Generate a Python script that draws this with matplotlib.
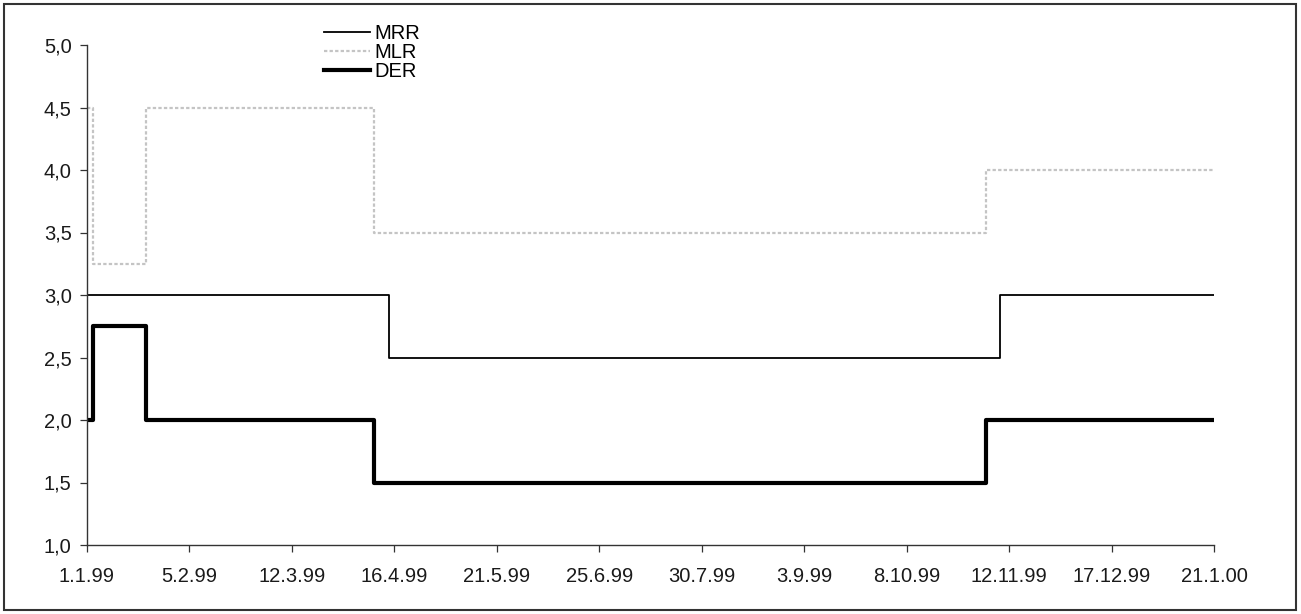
import matplotlib.pyplot as plt
import matplotlib.dates as mdates
from matplotlib.patches import Rectangle
import datetime as dt

plt.rcParams['font.family'] = ['Liberation Sans', 'DejaVu Sans']

# ECB interest rates 1999 (step changes)
mrr_dates = ['1999-01-01', '1999-04-14', '1999-11-09', '2000-01-21']
mrr_vals = [3.0, 2.5, 3.0, 3.0]

mlr_dates = ['1999-01-01', '1999-01-03', '1999-01-21', '1999-04-09', '1999-11-04', '2000-01-21']
mlr_vals = [4.5, 3.25, 4.5, 3.5, 4.0, 4.0]

der_dates = ['1999-01-01', '1999-01-03', '1999-01-21', '1999-04-09', '1999-11-04', '2000-01-21']
der_vals = [2.0, 2.75, 2.0, 1.5, 2.0, 2.0]

tick_labels = ['1.1.99', '5.2.99', '12.3.99', '16.4.99', '21.5.99', '25.6.99',
               '30.7.99', '3.9.99', '8.10.99', '12.11.99', '17.12.99', '21.1.00']
y_ticks = [1.0, 1.5, 2.0, 2.5, 3.0, 3.5, 4.0, 4.5, 5.0]


def to_dates(lst):
    return [dt.datetime.strptime(s, '%Y-%m-%d') for s in lst]


fig = plt.figure(figsize=(13.01, 6.14), dpi=100)
ax = fig.add_axes([87 / 1301, 1 - 545 / 614, (1214 - 87) / 1301, 500 / 614])

l1, = ax.plot(to_dates(mrr_dates), mrr_vals, drawstyle='steps-post',
              color='black', lw=1.3, label='MRR')
l2, = ax.plot(to_dates(mlr_dates), mlr_vals, drawstyle='steps-post',
              color='#c4c4c4', lw=1.6, ls=(0, (1.5, 1)), label='MLR')
l3, = ax.plot(to_dates(der_dates), der_vals, drawstyle='steps-post',
              color='black', lw=3.0, label='DER')

start = dt.datetime(1999, 1, 1)
ticks = [start + dt.timedelta(days=35 * i) for i in range(len(tick_labels))]
ax.set_xlim(ticks[0], ticks[-1])
ax.set_xticks(ticks)
ax.set_xticklabels(tick_labels)

ax.set_ylim(1.0, 5.0)
ax.set_yticks(y_ticks)
ax.set_yticklabels([f'{v:.1f}'.replace('.', ',') for v in y_ticks])

for s in ['top', 'right']:
    ax.spines[s].set_visible(False)
for s in ['left', 'bottom']:
    ax.spines[s].set_color('#333333')
    ax.spines[s].set_linewidth(1.0)
ax.tick_params(axis='both', direction='out', length=5, width=0.9,
               colors='#333333', labelcolor='#1a1a1a', labelsize=14.5)
ax.tick_params(axis='x', pad=11)
ax.tick_params(axis='y', pad=6)
ax.patch.set_alpha(0)

fig.legend(handles=[l1, l2, l3], loc='upper left',
           bbox_to_anchor=(314 / 1301, 1 - 14 / 614), frameon=False,
           fontsize=14.5, handlelength=2.3, handletextpad=0.2,
           labelspacing=0.0, borderpad=0)

fig.patches.append(Rectangle((4 / 1301, 4 / 614), 1292 / 1301, 606 / 614,
                             transform=fig.transFigure, fill=False,
                             edgecolor='#333333', lw=1.5))

fig.savefig('out.png', dpi=100)
